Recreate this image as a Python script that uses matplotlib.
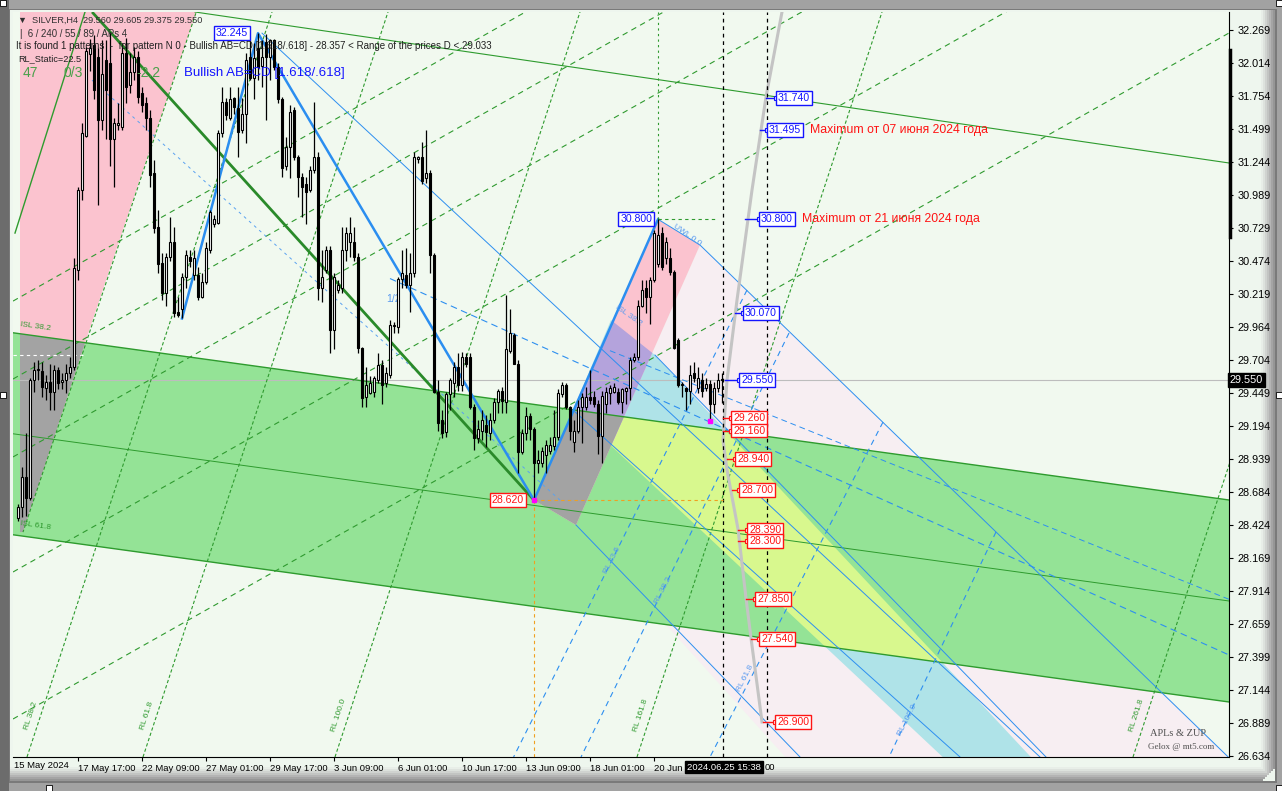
import matplotlib
matplotlib.use('Agg')
import matplotlib.pyplot as plt
from matplotlib.patches import Polygon, Rectangle

W, H = 1282, 791

# ---------------- data ----------------
opens = [28.48,28.57,28.80,28.64,29.55,29.63,29.62,29.49,29.54,29.46,29.63,29.54,29.55,29.61,29.65,30.41,31.03,31.45,32.08,32.15,
         32.06,31.57,32.04,32.01,31.42,31.53,31.52,32.09,31.84,31.94,32.06,31.78,31.70,31.59,31.16,30.74,30.46,30.23,30.51,30.62,
         30.08,30.10,30.35,30.51,30.37,30.37,30.20,30.31,30.56,30.76,30.77,31.47,31.71,31.59,31.74,31.66,31.49,31.62,32.06,31.90,
         32.13,31.99,32.18,32.06,32.19,31.98,31.73,31.21,31.36,31.65,31.28,31.13,31.07,31.03,31.18,31.28,30.27,30.41,30.56,29.94,
         30.25,30.27,30.56,30.62,30.62,30.51,29.80,29.42,29.45,29.46,29.55,29.67,29.53,29.59,29.97,29.96,30.34,30.37,30.29,30.38,
         31.27,31.28,31.12,31.16,30.52,29.46,29.24,29.15,29.44,29.53,29.65,29.51,29.73,29.73,29.34,29.10,29.16,29.20,29.14,29.24,
         29.38,29.47,29.38,29.78,29.90,29.68,28.99,29.14,29.27,29.17,28.91,28.91,28.97,29.00,29.04,29.11,29.44,29.51,29.34,29.07,
         29.16,29.34,29.34,29.42,29.42,29.37,29.12,29.37,29.45,29.46,29.46,29.38,29.47,29.49,29.71,29.73,30.13,30.27,30.20,30.33,
         30.45,30.69,30.50,30.50,30.39,29.86,29.51,29.49,29.47,29.61,29.49,29.55,29.49,29.52,29.37,29.49,29.56]
highs = [28.59,28.88,29.14,29.57,29.69,29.71,29.69,29.59,29.68,29.67,29.65,29.61,29.68,29.73,30.50,31.05,31.55,32.14,32.20,32.23,
         32.13,32.19,32.19,32.25,31.59,31.70,32.17,32.21,32.09,32.14,32.11,31.83,31.75,31.65,31.26,30.87,30.54,30.54,30.82,30.74,
         30.20,30.38,30.56,30.56,30.56,30.43,30.38,30.62,30.87,30.83,31.49,31.83,31.74,31.83,31.75,31.83,31.74,32.09,32.19,32.17,
         32.245,32.19,32.24,32.20,32.20,32.01,31.75,31.44,31.69,31.67,31.30,31.16,31.13,31.21,31.71,31.32,30.56,30.59,30.59,30.38,
         30.33,30.74,30.74,30.82,30.74,30.54,29.81,29.65,29.58,29.58,29.76,29.71,29.65,30.02,30.00,30.35,30.56,30.58,30.54,31.32,
         31.29,31.40,31.49,31.18,30.54,29.55,29.32,29.46,29.57,29.69,29.76,29.77,29.76,29.76,29.37,29.24,29.32,29.28,29.30,29.41,
         29.48,29.50,30.21,30.10,29.92,29.71,29.17,29.34,29.30,29.19,29.01,29.03,29.09,29.11,29.32,29.48,29.54,29.53,29.35,29.24,
         29.40,29.45,29.50,29.63,29.47,29.40,29.47,29.50,29.51,29.53,29.49,29.49,29.50,29.73,29.76,30.17,30.33,30.33,30.35,30.72,
         30.80,30.74,30.66,30.58,30.41,29.88,29.54,29.50,29.67,29.69,29.65,29.61,29.57,29.55,29.54,29.61,29.605]
lows = [28.46,28.49,28.50,28.62,29.46,29.55,29.42,29.40,29.32,29.32,29.48,29.48,29.45,29.57,29.63,30.33,30.95,31.44,31.95,31.73,
        30.91,31.49,31.42,31.21,31.05,31.49,31.49,31.70,31.78,31.88,31.70,31.63,31.49,31.05,30.69,30.38,30.17,30.13,30.48,30.04,
        30.04,30.03,30.27,30.43,30.33,30.17,30.19,30.30,30.54,30.74,30.76,31.44,31.57,31.57,31.62,31.28,31.47,31.39,31.88,31.73,
        31.88,31.83,31.57,31.88,31.96,31.70,31.13,31.18,31.12,31.26,30.97,30.82,30.76,31.01,31.16,30.17,30.16,30.38,29.76,29.79,
        30.23,30.23,30.48,30.51,30.48,29.76,29.34,29.34,29.44,29.42,29.53,29.37,29.50,29.57,29.92,29.92,30.27,30.27,30.08,30.35,
        31.24,31.07,31.08,30.38,29.45,29.16,29.10,29.11,29.32,29.42,29.47,29.47,29.65,29.33,29.01,29.06,29.09,29.03,29.09,29.22,
        29.30,29.30,29.30,29.76,29.68,28.83,28.98,29.09,29.09,28.62,28.83,28.88,28.83,28.98,29.01,29.09,29.42,29.33,29.09,28.99,
        29.14,29.06,29.32,29.37,29.34,28.98,28.91,29.30,29.37,29.45,29.37,29.30,29.37,29.40,29.69,29.71,30.12,30.07,29.99,30.31,
        30.43,30.41,30.45,30.37,29.79,29.50,29.42,29.32,29.37,29.54,29.45,29.42,29.47,29.234,29.30,29.46,29.375]
closes = [28.57,28.80,28.64,29.55,29.63,29.64,29.50,29.54,29.46,29.63,29.53,29.55,29.61,29.65,30.42,31.03,31.47,32.11,32.13,31.80,
          31.57,31.93,31.80,31.42,31.55,31.55,32.09,31.83,31.94,32.06,31.75,31.69,31.59,31.14,30.73,30.45,30.23,30.51,30.62,30.07,
          30.06,30.35,30.52,30.48,30.50,30.20,30.31,30.58,30.86,30.80,31.47,31.71,31.61,31.73,31.67,31.48,31.62,32.04,31.90,32.05,
          31.98,32.06,32.06,32.19,31.98,31.73,31.20,31.36,31.63,31.28,31.13,31.05,31.01,31.18,31.28,30.27,30.35,30.56,29.94,30.35,
          30.29,30.56,30.69,30.69,30.51,29.80,29.41,29.51,29.53,29.57,29.67,29.51,29.61,29.98,29.98,30.34,30.38,30.29,30.38,31.28,
          31.28,31.10,31.16,30.52,29.46,29.22,29.14,29.44,29.55,29.65,29.51,29.73,29.68,29.34,29.10,29.17,29.24,29.15,29.24,29.38,
          29.47,29.39,29.79,29.92,29.68,28.99,29.14,29.27,29.17,28.91,28.93,29.00,29.05,29.05,29.11,29.45,29.51,29.34,29.16,29.16,
          29.34,29.42,29.42,29.40,29.37,29.12,29.43,29.46,29.49,29.50,29.38,29.48,29.49,29.71,29.73,30.13,30.25,30.20,30.33,30.69,
          30.68,30.43,30.62,30.39,29.80,29.51,29.52,29.47,29.59,29.57,29.57,29.47,29.52,29.37,29.49,29.55,29.55]

# price axis ticks (right side)
y_ticks = [32.269,32.014,31.754,31.499,31.244,30.989,30.729,30.474,30.219,29.964,29.704,29.449,29.194,
           28.939,28.684,28.424,28.169,27.914,27.659,27.399,27.144,26.889,26.634]
# time axis: bar index and label
x_tick_idx = [-1, 15, 31, 47, 63, 79, 95, 111, 127, 143, 159]
x_tick_lbl = ['15 May 2024', '17 May 17:00', '22 May 09:00', '27 May 01:00', '29 May 17:00', '3 Jun 09:00',
              '6 Jun 01:00', '10 Jun 17:00', '13 Jun 09:00', '18 Jun 01:00', '20 Jun']

# AB=CD pattern points (bar, price)
zz_idx = [41, 60, 129, 160]
zz_price = [30.03, 32.245, 28.62, 30.80]

# price level labels: box bar index, connector start bar, price
lvl_blue_idx = [190, 187.75, 185.75, 181.75, 180.75]
lvl_blue_from = [187.0, 185.5, 181.75, 179.25, 176.75]
lvl_blue_price = [31.740, 31.495, 30.800, 30.070, 29.550]
lvl_red_idx = [178.75, 178.75, 179.75, 180.75, 182.75, 182.75, 184.75, 185.75, 189.75]
lvl_red_from = [176.25, 176.25, 177.25, 178.5, 180.0, 180.0, 182.0, 183.25, 186.25]
lvl_red_price = [29.260, 29.160, 28.940, 28.700, 28.390, 28.300, 27.850, 27.540, 26.900]

# gray projection curve (bar, price)
gray_idx = [191.0, 187.0, 183.5, 179.75, 177.25, 176.25, 177.25, 180.0, 182.0, 183.25, 186.0]
gray_price = [32.409, 31.749, 31.027, 30.173, 29.552, 29.087, 28.854, 28.396, 27.860, 27.550, 26.898]

# channel (green) : lines given by two (bar, price) anchors
chan_idx = [-1.25, 302.75]
chan_top = [29.919, 28.621]
chan_mid = [29.135, 27.837]
chan_bot = [28.351, 27.053]

# RL grid (green dashed): steep lines (bar where they meet the bottom edge), shallow lines (price at left edge)
rl_bot = [2.25, 31.25, 79.25, 154.75, 278.75]
rl_txt = ['RL 38.2', 'RL 61.8', 'RL 100.0', 'RL 161.8', 'RL 261.8']
rl_run = 61.25            # bars travelled from bottom edge to top edge
sh_left = [30.165, 29.560, 28.955, 28.062, 26.921]
sh_rise = 5.325           # price rise across the chart width

# blue RL fan (dashed): top point (bar, price), bottom bar, label position (bar, price)
brl_top_idx = [182.25, 192.75, 216.25, 244.5]
brl_top_p = [30.251, 29.917, 29.226, 28.373]
brl_bot_idx = [123.9, 140.75, 173.0, 217.75]
brl_txt = ['RL 23.6', 'RL 38.2', 'RL 61.8', 'RL 100.0']
brl_lbl_idx = [148.5, 161.25, 181.75, 222.25]
brl_lbl_p = [28.155, 27.922, 27.239, 26.913]

# ---------------- helpers ----------------
def clip(subject, clipper):
    """Sutherland-Hodgman clip of a polygon by a convex polygon."""
    def inside(p, a, b):
        return (b[0]-a[0])*(p[1]-a[1]) - (b[1]-a[1])*(p[0]-a[0]) >= 0
    def inter(p1, p2, a, b):
        x1, y1 = p1; x2, y2 = p2; x3, y3 = a; x4, y4 = b
        den = (x1-x2)*(y3-y4)-(y1-y2)*(x3-x4)
        t = ((x1-x3)*(y3-y4)-(y1-y3)*(x3-x4))/den
        return (x1+t*(x2-x1), y1+t*(y2-y1))
    n = len(clipper)
    area = sum(clipper[k][0]*clipper[(k+1) % n][1]-clipper[(k+1) % n][0]*clipper[k][1] for k in range(n))
    cl = clipper if area > 0 else clipper[::-1]
    out = list(subject)
    for k in range(n):
        a, b = cl[k], cl[(k+1) % n]
        inp = out; out = []
        if not inp:
            break
        s = inp[-1]
        for e in inp:
            if inside(e, a, b):
                if not inside(s, a, b):
                    out.append(inter(s, e, a, b))
                out.append(e)
            elif inside(s, a, b):
                out.append(inter(s, e, a, b))
            s = e
    return out

# ---------------- figure ----------------
fig = plt.figure(figsize=(W/100, H/100), dpi=100)
fig.patch.set_facecolor('#a2a2a2')
bg = fig.add_axes([0, 0, 1, 1], zorder=0)
bg.set_xlim(0, W); bg.set_ylim(H, 0); bg.axis('off')
bg.add_patch(Rectangle((0, 0), 9, H, fc='#6c6c6c', ec='none'))
bg.add_patch(Rectangle((9, 9), 1268, 774, fc='#7a7a7a', ec='none'))
bg.add_patch(Rectangle((10, 10), 1265, 771, fc='#eef6ee', ec='none'))
for k, c in enumerate(['#e8eee8', '#dde2dd', '#d0d3d0', '#c2c4c2', '#b4b4b4', '#a4a4a4', '#969696']):
    bg.add_patch(Rectangle((1261+k*2, 10), 2, 771-k*2, fc=c, ec='none'))
    bg.add_patch(Rectangle((10, 767+k*2), 1265-k*2, 2, fc=c, ec='none'))
for (hx, hy) in [(0, 0), (1276, 0), (1276, 392), (0, 392), (46, 785), (1276, 785)]:
    bg.add_patch(Rectangle((hx, hy), 6, 6, fc='white', ec='black', lw=0.6))

ax = fig.add_axes([13/W, (H-757)/H, 1216/W, 745/H], zorder=1)
ax.set_facecolor('#f1f9ef')
xmin, xmax = -1.25, 302.75
ymin, ymax = 26.626, 32.409
ax.set_xlim(xmin, xmax); ax.set_ylim(ymin, ymax)

# --- channel and bands ---
chan_poly = [(chan_idx[0], chan_top[0]), (chan_idx[1], chan_top[1]), (chan_idx[1], chan_bot[1]), (chan_idx[0], chan_bot[0])]
cyan_poly = [(148.25, 30.018), (159.25, 29.746), (257.0, 26.50), (235.5, 26.50), (138.75, 29.319)]
pinkdot_poly = [(170.5, 30.600), (302.75, 26.626), (302.75, 26.50), (195.5, 26.50), (139.5, 28.427)]
bandA = [(0.5, 32.44), (44.9, 32.44), (17.25, 29.886), (1.25, 28.372), (0.5, 28.372)]
bandD = [(129.0, 28.62), (160.0, 30.80), (170.5, 30.60), (139.5, 28.427)]

ax.add_patch(Polygon(pinkdot_poly, closed=True, fc='#f7eef2', ec='none', zorder=0.5))
ax.add_patch(Polygon(cyan_poly, closed=True, fc='#afe3e8', ec='none', zorder=0.8))
ax.add_patch(Polygon(chan_poly, closed=True, fc='#94e396', ec='none', zorder=1))
yel = clip(cyan_poly, chan_poly)
if yel:
    ax.add_patch(Polygon(yel, closed=True, fc='#d8f88e', ec='none', zorder=1.1))
for band in (bandA, bandD):
    ax.add_patch(Polygon(band, closed=True, fc='#fbc3cf', ec='none', zorder=1.2))
    g = clip(band, chan_poly)
    if g:
        ax.add_patch(Polygon(g, closed=True, fc='#a3a3a3', ec='none', zorder=1.3))
pur = clip(bandD, cyan_poly)
if pur:
    ax.add_patch(Polygon(pur, closed=True, fc='#b4a3dc', ec='none', zorder=1.25))

for yy, lw in ((chan_top, 1.0), (chan_mid, 0.7), (chan_bot, 1.0)):
    ax.plot(chan_idx, yy, color='#2e9b2e', lw=lw, zorder=2)

# long thin green line at top and left
ax.plot([44.25, 302.75], [32.409, 31.237], color='#2e9b2e', lw=0.8, zorder=2)
ax.plot([-0.75, 16.75], [30.693, 32.409], color='#2e9b2e', lw=1.0, zorder=2)
ax.plot([44.9, 1.25], [32.44, 28.372], color='#2f9a2f', lw=0.8, ls=(0, (3, 2)), zorder=2)

# green dashed RL grid
for b, s in zip(rl_bot, rl_txt):
    ax.plot([b, b + rl_run], [ymin, ymax], color='#2f9a2f', lw=0.8, ls=(0, (3, 2)), zorder=2)
    ax.text(b + 1.0, 26.95, s, rotation=72, fontsize=6, color='#2f9a2f', family='Liberation Sans',
            ha='center', va='center', zorder=2)
for yl in sh_left:
    ax.plot([xmin, xmax], [yl, yl + sh_rise], color='#2f9a2f', lw=0.8, ls=(0, (5, 4)), zorder=2)

# blue lines
ax.plot([61, 255.5], [32.245, 26.626], color='#2d8ff0', lw=0.7, zorder=2)                 # from A
ax.plot([160, 170.5, 302.75], [30.80, 30.60, 26.62], color='#2d8ff0', lw=0.7, zorder=2)   # UWL line
ax.plot([159.25, 257.0], [29.746, 26.626], color='#2d8ff0', lw=0.7, zorder=2)
ax.plot([138.75, 235.5], [29.319, 26.626], color='#2d8ff0', lw=0.7, zorder=2)
ax.plot([139.5, 195.5], [28.427, 26.626], color='#2d8ff0', lw=0.7, zorder=2)
ax.plot([93.0, 302.75], [30.34, 27.418], color='#2d8ff0', lw=0.8, ls=(0, (6, 4)), zorder=2)  # 1/2 line
ax.plot([18.5, 135.5], [31.88, 28.62], color='#5aa2f0', lw=0.7, ls=(0, (3, 4)), zorder=2)
ax.plot([148.0, 302.75], [29.78, 27.85], color='#2d8ff0', lw=0.7, ls=(0, (6, 4)), zorder=2)
ax.text(92, 30.18, '1/2', fontsize=7.5, color='#5a9af0', family='Liberation Sans', va='center', zorder=2)
for ti, tp, bi, s, lx, lp in zip(brl_top_idx, brl_top_p, brl_bot_idx, brl_txt, brl_lbl_idx, brl_lbl_p):
    ax.plot([ti, bi], [tp, ymin], color='#2d8ff0', lw=0.8, ls=(0, (5, 4)), zorder=2)
    ax.text(lx, lp, s, rotation=63, fontsize=6, color='#5a9af0', family='Liberation Sans',
            ha='center', va='center', zorder=2)

# thick pattern lines
ax.plot([18.75, 129], [32.401, 28.62], color='#2a8a2a', lw=2.0, zorder=3)
ax.plot(zz_idx, zz_price, color='#2b8ef0', lw=1.8, zorder=3)

# gray curve
ax.plot(gray_idx, gray_price, color='#c4c4c4', lw=2.2, zorder=2.5)

# current price line
ax.axhline(29.55, color='#bdbdbd', lw=0.8, zorder=1.8)
ax.plot([-1.25, 17], [29.75, 29.75], color='white', lw=0.8, ls=(0, (3, 3)), zorder=1.8)
# vertical dashed lines
for v in (176.25, 187.25):
    ax.axvline(v, color='black', lw=0.9, ls=(0, (3, 3)), zorder=4)
ax.plot([129, 129], [ymin, 28.62], color='#f0a020', lw=0.8, ls=(0, (3, 3)), zorder=4)
ax.plot([129, 176.25], [28.62, 28.62], color='#f0a020', lw=0.8, ls=(0, (3, 3)), zorder=4)
ax.plot([160, 175], [30.80, 30.80], color='#2f9a2f', lw=0.8, ls=(0, (3, 3)), zorder=4)
ax.plot([160, 160], [30.80, ymax], color='#2f9a2f', lw=0.8, ls=(0, (2, 3)), zorder=4)

# small labels on bands
ax.text(0.5, 29.97, 'ISL 38.2', rotation=-8, fontsize=6, color='#2f9a2f', family='Liberation Sans', va='center', zorder=4)
ax.text(0.5, 28.42, 'ISL 61.8', rotation=-8, fontsize=6, color='#2f9a2f', family='Liberation Sans', va='center', zorder=4)
ax.text(163.5, 30.68, 'UWL 0.0', rotation=-35, fontsize=6, color='#5a9af0', family='Liberation Sans', va='center', zorder=4)
ax.text(149, 30.05, 'ISL 38.2', rotation=-35, fontsize=6, color='#5a9af0', family='Liberation Sans', va='center', zorder=4)

# ---------------- candles ----------------
for i in range(len(opens)):
    o, h, l, c = opens[i], highs[i], lows[i], closes[i]
    ax.plot([i, i], [l, h], color='black', lw=0.9, zorder=5, solid_capstyle='butt')
    lo, hi = min(o, c), max(o, c)
    if hi - lo < 0.006:
        hi = lo + 0.006
    ax.add_patch(Rectangle((i-0.36, lo), 0.72, hi-lo, fc='white' if c >= o else 'black', ec='black', lw=0.8, zorder=6))
ax.plot([129, 173], [28.62, 29.234], ls='none', marker='s', ms=2.2, color='#ff00ff', zorder=7)

# ---------------- labels ----------------
font = 'Liberation Sans'
def box(x, y, s, col, ha='left'):
    ax.text(x, y, s, color=col, fontsize=7.6, family=font, ha=ha, va='center', zorder=8,
            bbox=dict(boxstyle='square,pad=0.18', fc='white', ec=col, lw=1.0))
for xi, x0, p in zip(lvl_blue_idx, lvl_blue_from, lvl_blue_price):
    ax.plot([x0, xi], [p, p], color='#1414ff', lw=1, zorder=7)
    ax.plot([xi - 0.4], [p], marker='s', ms=2.5, mfc='white', mec='#1414ff', mew=0.8, zorder=7.5)
    box(xi, p, f'{p:.3f}', '#1414ff')
for xi, x0, p in zip(lvl_red_idx, lvl_red_from, lvl_red_price):
    ax.plot([x0, xi], [p, p], color='#ff1414', lw=1, zorder=7)
    ax.plot([xi - 0.4], [p], marker='s', ms=2.5, mfc='white', mec='#ff1414', mew=0.8, zorder=7.5)
    box(xi, p, f'{p:.3f}', '#ff1414')
box(57.5, 32.245, '32.245', '#1414ff', ha='right')
box(158.5, 30.80, '30.800', '#1414ff', ha='right')
box(126.5, 28.62, '28.620', '#ff1414', ha='right')
ax.text(198, 31.495, 'Maximum от 07 июня 2024 года', color='#ff1414', fontsize=8.8, family=font, va='center', zorder=8)
ax.text(196, 30.800, 'Maximum от 21 июня 2024 года', color='#ff1414', fontsize=8.8, family=font, va='center', zorder=8)

# axes styling
for s in ['top', 'left']:
    ax.spines[s].set_visible(False)
ax.spines['right'].set_color('black'); ax.spines['bottom'].set_color('black')
ax.yaxis.tick_right()
ax.set_yticks(y_ticks)
ax.set_yticklabels([f'{t:.3f}' for t in y_ticks], fontsize=7.8, family=font)
ax.tick_params(axis='y', length=3, width=0.8, pad=3)
ax.set_xticks(x_tick_idx[1:])
ax.set_xticklabels(x_tick_lbl[1:], fontsize=6.8, family=font, ha='left')
ax.tick_params(axis='x', length=3, width=0.8, pad=2)
ax.text(x_tick_idx[0], -0.005, x_tick_lbl[0], transform=ax.get_xaxis_transform(), fontsize=6.8, family=font,
        ha='left', va='top', clip_on=False)

# ---------------- overlay (header texts, axis boxes) ----------------
ov = fig.add_axes([0, 0, 1, 1], zorder=5)
ov.set_xlim(0, W); ov.set_ylim(H, 0); ov.axis('off'); ov.patch.set_alpha(0)
ov.text(18, 20, '▼  SILVER,H4  29.560 29.605 29.375 29.550', fontsize=6.6, color='#303030', va='center',
        family=['Liberation Sans', 'DejaVu Sans'])
ov.text(20, 34, '|  6 / 240 / 55 / 89 / APs 4', fontsize=6.9, color='#303030', va='center', family=font)
ov.text(16, 46, 'It is found 1 patterns  -  for pattern N 0 - Bullish AB=CD [1.618/.618] - 28.357 < Range of the prices D < 29.033',
        fontsize=7.0, color='#202020', va='center', family=font)
ov.text(18, 59, 'RL_Static=22.5', fontsize=6.6, color='#202020', va='center', family=font)
ov.text(23, 73, '47', fontsize=10, color='#4aa04a', va='center', family=font)
ov.text(63, 73, '0/3', fontsize=10, color='#4aa04a', va='center', family=font)
ov.text(136, 73, '-2.2', fontsize=10, color='#4aa04a', va='center', family=font)
ov.text(184, 73, 'Bullish AB=CD [1.618/.618]', fontsize=9.5, color='#1414ff', va='center', family=font)
ov.text(1150, 734, 'APLs & ZUP', fontsize=7.5, color='#505050', va='center', family='Liberation Serif')
ov.text(1148, 747, 'Gelox @ mt5.com', fontsize=6.5, color='#505050', va='center', family='Liberation Serif')
ov.text(1230, 380, '29.550', fontsize=7.8, family=font, color='white', va='center', ha='left',
        bbox=dict(boxstyle='square,pad=0.15', fc='black', ec='black'))
ov.text(765, 767, '00', fontsize=6.8, family=font, color='black', va='center', ha='left')
ov.text(724, 767, '2024.06.25 15:38', fontsize=6.8, family=font, color='white', va='center', ha='center',
        bbox=dict(boxstyle='square,pad=0.2', fc='black', ec='black'))
ov.plot([1230, 1230], [50, 237], color='black', lw=2.5)

fig.savefig('out.png', dpi=100, facecolor=fig.get_facecolor())
